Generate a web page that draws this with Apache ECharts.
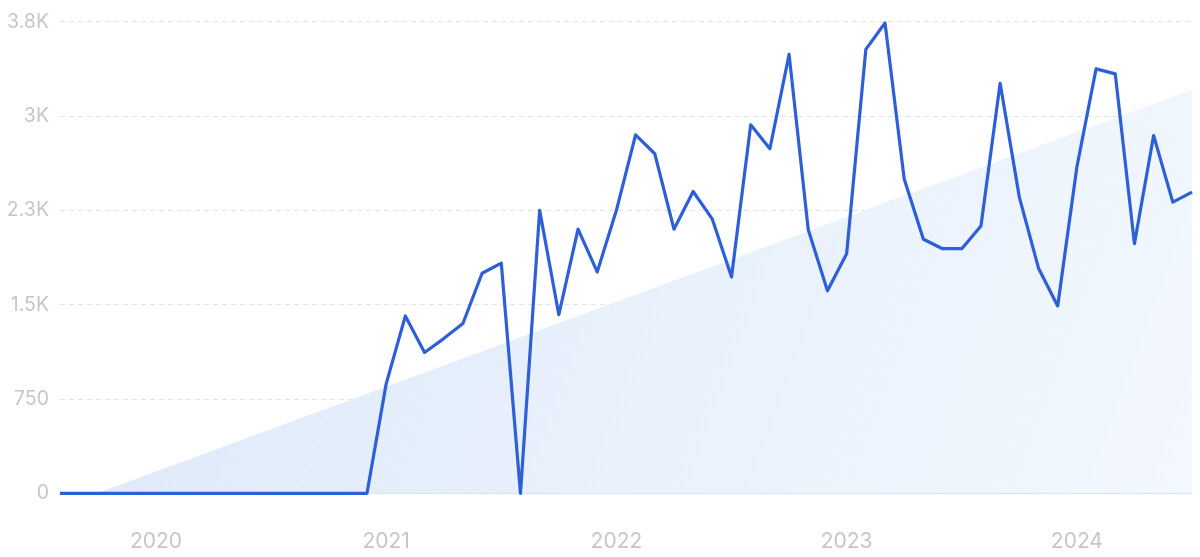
<!DOCTYPE html>
<html>
<head>
<meta charset="utf-8">
<script src="https://cdn.jsdelivr.net/npm/echarts@6/dist/echarts.min.js"></script>
<style>
html,body{margin:0;padding:0;background:#fff;}
#chart{width:1200px;height:557px;}
</style>
</head>
<body>
<div id="chart"></div>
<script>
const months = [
  '2019-08','2019-09','2019-10','2019-11','2019-12',
  '2020-01','2020-02','2020-03','2020-04','2020-05','2020-06','2020-07','2020-08','2020-09','2020-10','2020-11','2020-12',
  '2021-01','2021-02','2021-03','2021-04','2021-05','2021-06','2021-07','2021-08','2021-09','2021-10','2021-11','2021-12',
  '2022-01','2022-02','2022-03','2022-04','2022-05','2022-06','2022-07','2022-08','2022-09','2022-10','2022-11','2022-12',
  '2023-01','2023-02','2023-03','2023-04','2023-05','2023-06','2023-07','2023-08','2023-09','2023-10','2023-11','2023-12',
  '2024-01','2024-02','2024-03','2024-04','2024-05','2024-06','2024-07'
];
const searches = [
  0,0,0,0,0,
  0,0,0,0,0,0,0,0,0,0,0,0,
  870,1410,1120,1230,1350,1750,1830,0,2250,1420,2100,1760,
  2250,2850,2700,2100,2400,2180,1720,2930,2740,3490,2095,1610,
  1905,3530,3740,2500,2020,1945,1945,2125,3260,2355,1790,1490,
  2595,3375,3335,1985,2845,2315,2395
];
// trend line: only its two end points, joined by the library
const trendStart = -108;
const trendEnd = 3208;
const yTickValues = [0, 750, 1500, 2250, 3000, 3750];
const yTickLabels = ['0', '750', '1.5K', '2.3K', '3K', '3.8K'];

const trend = months.map(() => null);
trend[0] = trendStart;
trend[months.length - 1] = trendEnd;

const chart = echarts.init(document.getElementById('chart'), null, {renderer: 'canvas'});
chart.setOption({
  animation: false,
  grid: {left: 60, right: 8, top: 21.7, bottom: 63.7, containLabel: false},
  xAxis: {
    type: 'category',
    data: months,
    boundaryGap: false,
    axisLine: {show: true, lineStyle: {color: '#d4e2f4', width: 1}},
    axisTick: {show: false},
    axisLabel: {
      interval: (i, v) => v.endsWith('-01'),
      formatter: v => v.slice(0, 4),
      color: '#c6c6c6',
      fontFamily: 'Inter',
      fontSize: 21,
      margin: 38
    },
    splitLine: {show: false}
  },
  yAxis: {
    type: 'value',
    min: 0,
    max: 3750,
    interval: 750,
    axisLine: {show: false},
    axisTick: {show: false},
    axisLabel: {
      formatter: v => yTickLabels[yTickValues.indexOf(v)],
      color: '#c6c6c6',
      fontFamily: 'Inter',
      fontSize: 19.5,
      margin: 11
    },
    splitLine: {show: true, lineStyle: {color: '#dde4f0', type: [5, 4], width: 1}}
  },
  series: [
    {
      type: 'line',
      data: trend,
      connectNulls: true,
      showSymbol: false,
      silent: true,
      lineStyle: {width: 0},
      areaStyle: {
        origin: 'start',
        opacity: 1,
        color: new echarts.graphic.LinearGradient(0, 0, 1, 1, [
          {offset: 0, color: '#dce8f9'},
          {offset: 1, color: '#f3f8fe'}
        ])
      },
      z: 1
    },
    {
      type: 'line',
      data: searches,
      showSymbol: false,
      lineStyle: {color: '#2d5fd9', width: 3.2, join: 'round'},
      z: 3
    }
  ]
});
</script>
</body>
</html>
